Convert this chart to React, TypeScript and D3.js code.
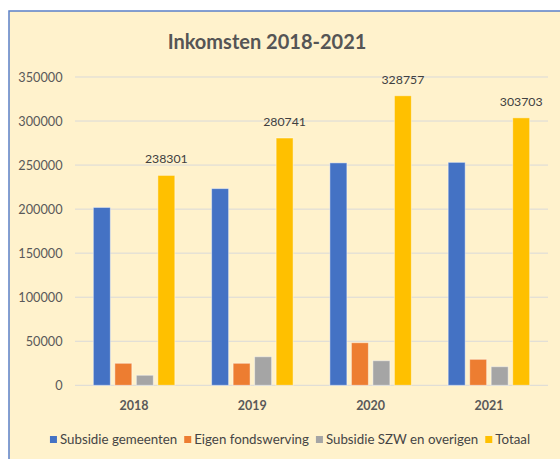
import React, { useEffect, useRef } from 'react'
import * as d3 from 'd3'

const years = ['2018', '2019', '2020', '2021']
const seriesNames = ['Subsidie gemeenten', 'Eigen fondswerving', 'Subsidie SZW en overigen', 'Totaal']
const subsidieGemeenten = [201900, 223300, 252500, 253100]
const eigenFondswerving = [25000, 25000, 48350, 29500]
const subsidieSZW = [11400, 32400, 27900, 21100]
const totaal = [238301, 280741, 328757, 303703]
const yTicks = [0, 50000, 100000, 150000, 200000, 250000, 300000, 350000]
const colors = ['#4472C4', '#ED7D31', '#A5A5A5', '#FFC000']

const FONT = 'Lato, "Open Sans", sans-serif'

export default function App() {
  const ref = useRef<SVGSVGElement>(null)

  useEffect(() => {
    const svg = d3.select(ref.current)
    svg.selectAll('*').remove()

    const values = [subsidieGemeenten, eigenFondswerving, subsidieSZW, totaal]

    // chart frame
    svg.append('rect')
      .attr('x', 0).attr('y', 0).attr('width', 560).attr('height', 459)
      .attr('fill', '#fff')
    svg.append('rect')
      .attr('x', 9).attr('y', 11).attr('width', 600).attr('height', 500)
      .attr('fill', '#FFF2CC')
      .attr('stroke', '#5B80C8')
      .attr('stroke-width', 1.5)

    svg.append('text')
      .attr('x', 267).attr('y', 49)
      .attr('text-anchor', 'middle')
      .style('font-family', FONT)
      .style('font-size', '20px')
      .style('font-weight', 'bold')
      .style('fill', '#555')
      .text('Inkomsten 2018-2021')

    const y = d3.scaleLinear().domain([0, 350000]).range([385.3, 77])
    const x0 = d3.scaleBand().domain(years).range([75, 548]).paddingInner(0.311).paddingOuter(0.155)
    const x1 = d3.scaleBand().domain(seriesNames).range([0, x0.bandwidth()]).paddingInner(0.21).paddingOuter(0)

    const grid = svg.append('g')
    grid.selectAll('line').data(yTicks).join('line')
      .attr('x1', 75).attr('x2', 548)
      .attr('y1', d => y(d)).attr('y2', d => y(d))
      .attr('stroke', '#D9D9D9').attr('stroke-width', 1)

    svg.append('g').selectAll('text').data(yTicks).join('text')
      .attr('x', 62.5).attr('y', d => y(d) + 4.5)
      .attr('text-anchor', 'end')
      .style('font-family', FONT)
      .style('font-size', '12.7px')
      .style('fill', '#595959')
      .text(d => String(d))

    const groups = svg.append('g').selectAll('g').data(years).join('g')
      .attr('transform', d => `translate(${x0(d)},0)`)

    groups.selectAll('rect')
      .data((d, i) => seriesNames.map((s, k) => ({ s, k, v: values[k][i] })))
      .join('rect')
      .attr('x', d => x1(d.s) as number)
      .attr('width', x1.bandwidth())
      .attr('y', d => y(d.v))
      .attr('height', d => y(0) - y(d.v))
      .attr('fill', d => colors[d.k])
      .attr('stroke', 'rgba(255,255,255,0.45)')
      .attr('stroke-width', 1)

    groups.append('text')
      .attr('x', x1('Totaal') as number + x1.bandwidth() / 2)
      .attr('y', (d, i) => y(totaal[i]) - 12)
      .attr('text-anchor', 'middle')
      .style('font-family', FONT)
      .style('font-size', '12.3px')
      .style('fill', '#404040')
      .text((d, i) => String(totaal[i]))

    svg.append('g').selectAll('text').data(years).join('text')
      .attr('x', d => (x0(d) as number) + x0.bandwidth() / 2)
      .attr('y', 410)
      .attr('text-anchor', 'middle')
      .style('font-family', FONT)
      .style('font-size', '12.5px')
      .style('font-weight', 'bold')
      .style('fill', '#595959')
      .text(d => d)

    // legend
    const legend = svg.append('g')
    const items = legend.selectAll('g').data(seriesNames).join('g')
    items.append('rect')
      .attr('width', 7).attr('height', 7).attr('y', -8)
      .attr('fill', (d, i) => colors[i])
    const labels = items.append('text')
      .attr('x', 10).attr('y', 0)
      .style('font-family', FONT)
      .style('font-size', '13.3px')
      .style('fill', '#454545')
      .text(d => d)
    const widths: number[] = []
    labels.each(function () { widths.push((this as SVGTextElement).getComputedTextLength()) })
    const gap = 7
    const total = widths.reduce((a, w) => a + 10 + w + gap, 0) - gap
    let cx = 290 - total / 2
    items.attr('transform', (d, i) => {
      const t = `translate(${cx},444)`
      cx += 10 + widths[i] + gap
      return t
    })
  }, [])

  return (
    <svg ref={ref} width={560} height={459} style={{ position: 'absolute', left: 0, top: 0 }} />
  )
}
